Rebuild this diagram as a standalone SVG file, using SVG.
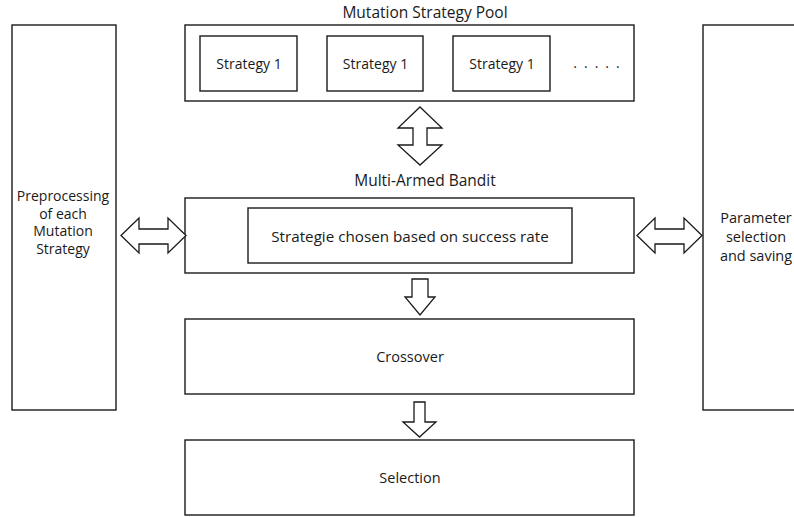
<svg xmlns="http://www.w3.org/2000/svg" width="794" height="517" viewBox="0 0 794 517">
<style>
.box{fill:#fff;stroke:#1a1a1a;stroke-width:1.4}
.arr{fill:#fff;stroke:#1a1a1a;stroke-width:1.3;stroke-linejoin:miter}
text{font-family:"Open Sans","Noto Sans","DejaVu Sans",sans-serif;fill:#1a1a1a;text-anchor:middle}
.t{font-size:14.5px}
.h{font-size:15.5px}
.m{font-size:15.2px}
.l{font-size:14px}
.s{font-size:14px}
</style>
<rect width="794" height="517" fill="#fff"/>
<g id="preprocessing">
<rect class="box" x="12" y="25" width="104" height="385"/>
<text class="l" x="63" y="201">Preprocessing</text>
<text class="l" x="63" y="218.5">of each</text>
<text class="l" x="63" y="236">Mutation</text>
<text class="l" x="63" y="253.5">Strategy</text>
</g>
<g id="pool">
<text class="h" x="425" y="18">Mutation Strategy Pool</text>
<rect class="box" x="185" y="25" width="449" height="76"/>
<g id="strategy1"><rect class="box" x="200" y="36" width="97" height="55"/><text class="s" x="249" y="69">Strategy 1</text></g>
<g id="strategy2"><rect class="box" x="327" y="36" width="96" height="55"/><text class="s" x="375.5" y="69">Strategy 1</text></g>
<g id="strategy3"><rect class="box" x="453" y="36" width="97" height="55"/><text class="s" x="502" y="69">Strategy 1</text></g>
<text class="s" x="600" y="68" letter-spacing="7">.....</text>
</g>
<g id="bandit">
<text class="h" x="425" y="186">Multi-Armed Bandit</text>
<rect class="box" x="185" y="198" width="449" height="75"/>
<rect class="box" x="248" y="208" width="324" height="55"/>
<text class="m" x="410" y="242">Strategie chosen based on success rate</text>
</g>
<g id="parameter">
<rect class="box" x="703" y="25" width="100" height="385"/>
<text class="t" x="756" y="223">Parameter</text>
<text class="t" x="756" y="242">selection</text>
<text class="t" x="756" y="261">and saving</text>
</g>
<g id="crossover">
<rect class="box" x="185" y="319" width="449" height="75"/>
<text class="t" x="410" y="362">Crossover</text>
</g>
<g id="selection">
<rect class="box" x="185" y="440" width="449" height="75"/>
<text class="t" x="410" y="483">Selection</text>
</g>
<g id="connectors">
<path class="arr" d="M420,107 L442,128 L427,128 L427,145 L442,145 L420,165 L398,145 L413,145 L413,128 L398,128 Z"/>
<path class="arr" d="M121,235.5 L139,218 L139,229 L168,229 L168,218 L186,235.5 L168,253 L168,244 L139,244 L139,253 Z"/>
<path class="arr" d="M637,235.5 L655,218 L655,229 L684,229 L684,218 L702,235.5 L684,253 L684,244 L655,244 L655,253 Z"/>
<path class="arr" d="M412,279 L428,279 L428,297 L435,297 L420,315 L405,297 L412,297 Z"/>
<path class="arr" d="M414,402 L425,402 L425,422 L436,422 L419.5,437 L403,422 L414,422 Z"/>
</g>
</svg>
